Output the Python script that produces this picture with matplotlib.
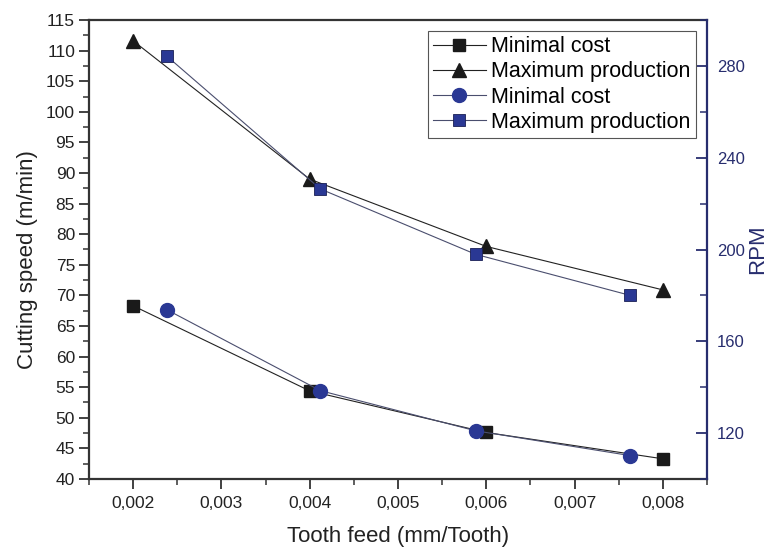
import matplotlib
matplotlib.use("Agg")
import matplotlib.pyplot as plt
from matplotlib.ticker import MultipleLocator, FuncFormatter

plt.rcParams['font.family'] = ['Liberation Sans', 'DejaVu Sans']

# tooth feed (mm/tooth)
feed = [0.002, 0.004, 0.006, 0.008]
feed_rpm = [0.00238, 0.00412, 0.00588, 0.00763]

# cutting speed (m/min), left axis
speed_min_cost = [68.3, 54.4, 47.6, 43.3]
speed_max_prod = [111.6, 89.0, 78.0, 70.9]

# spindle speed, right axis
rpm_min_cost = [173.8, 138.5, 121.0, 110.2]
rpm_max_prod = [284.3, 226.4, 197.9, 180.0]

labels = ['Minimal cost', 'Maximum production', 'Minimal cost', 'Maximum production']

navy = '#272d6e'
blue = '#2a3894'
frame = '#333333'

fig = plt.figure(figsize=(7.69, 5.47), dpi=100)
ax = fig.add_axes([89/769, 1 - 479/547, 618/769, 459/547])
ax2 = ax.twinx()

h1, = ax.plot(feed, speed_min_cost, color='#222222', lw=0.8, marker='s', ms=8,
              mfc='#1a1a1a', mec='#1a1a1a', label=labels[0])
h2, = ax.plot(feed, speed_max_prod, color='#222222', lw=0.8, marker='^', ms=10,
              mfc='#1a1a1a', mec='#1a1a1a', label=labels[1])
h3, = ax2.plot(feed_rpm, rpm_min_cost, color='#4a4e6e', lw=0.8, marker='o', ms=10,
               mfc=blue, mec=blue, label=labels[2])
h4, = ax2.plot(feed_rpm, rpm_max_prod, color='#4a4e6e', lw=0.8, marker='s', ms=8.5,
               mfc=blue, mec='#1a1f55', mew=0.6, label=labels[3])

ax.set_xlim(0.0015, 0.0085)
ax.set_ylim(40, 115)
ax2.set_ylim(100, 300)

ax.xaxis.set_major_locator(MultipleLocator(0.001))
ax.xaxis.set_minor_locator(MultipleLocator(0.0005))
ax.xaxis.set_major_formatter(FuncFormatter(lambda v, p: ('%.3f' % v).replace('.', ',')))
ax.yaxis.set_major_locator(MultipleLocator(5))
ax.yaxis.set_minor_locator(MultipleLocator(2.5))
ax2.yaxis.set_major_locator(MultipleLocator(40))
ax2.yaxis.set_minor_locator(MultipleLocator(20))

ax.tick_params(axis='both', which='major', direction='out', length=7, width=1.3,
               colors=frame, labelcolor='#222222')
ax.tick_params(axis='both', which='minor', direction='out', length=4, width=1.1, colors=frame)
ax.tick_params(axis='x', which='major', pad=5.5, labelsize=12.5)
ax.tick_params(axis='y', which='major', pad=3, labelsize=12.5)
ax2.tick_params(axis='y', which='major', direction='in', length=8, width=1.3,
                labelsize=12, colors=navy, labelcolor=navy, pad=7)
ax2.tick_params(axis='y', which='minor', direction='in', length=5, width=1.1, colors=navy)

for side in ['left', 'bottom', 'top']:
    ax.spines[side].set_color(frame)
    ax.spines[side].set_linewidth(1.6)
ax.spines['right'].set_visible(False)
for side in ['left', 'bottom', 'top']:
    ax2.spines[side].set_visible(False)
ax2.spines['right'].set_color(navy)
ax2.spines['right'].set_linewidth(1.6)

ax.set_xlabel('Tooth feed (mm/Tooth)', fontsize=16, color='#222222', labelpad=10.5)
ax.set_ylabel('Cutting speed (m/min)', fontsize=16, color='#222222', labelpad=5)
ax.yaxis.set_label_coords(-0.083, 0.477)
ax2.set_ylabel('RPM', fontsize=16, color=navy, labelpad=2)

leg = ax2.legend([h1, h2, h3, h4], labels, loc='upper right', bbox_to_anchor=(0.982, 0.976),
                 fontsize=15.5, frameon=True, fancybox=False, edgecolor='#555555',
                 framealpha=1, handlelength=2.45, handletextpad=0.25, labelspacing=0.19,
                 borderpad=0.25, borderaxespad=0)
leg.get_frame().set_linewidth(0.8)

fig.savefig('out.png', dpi=100)
